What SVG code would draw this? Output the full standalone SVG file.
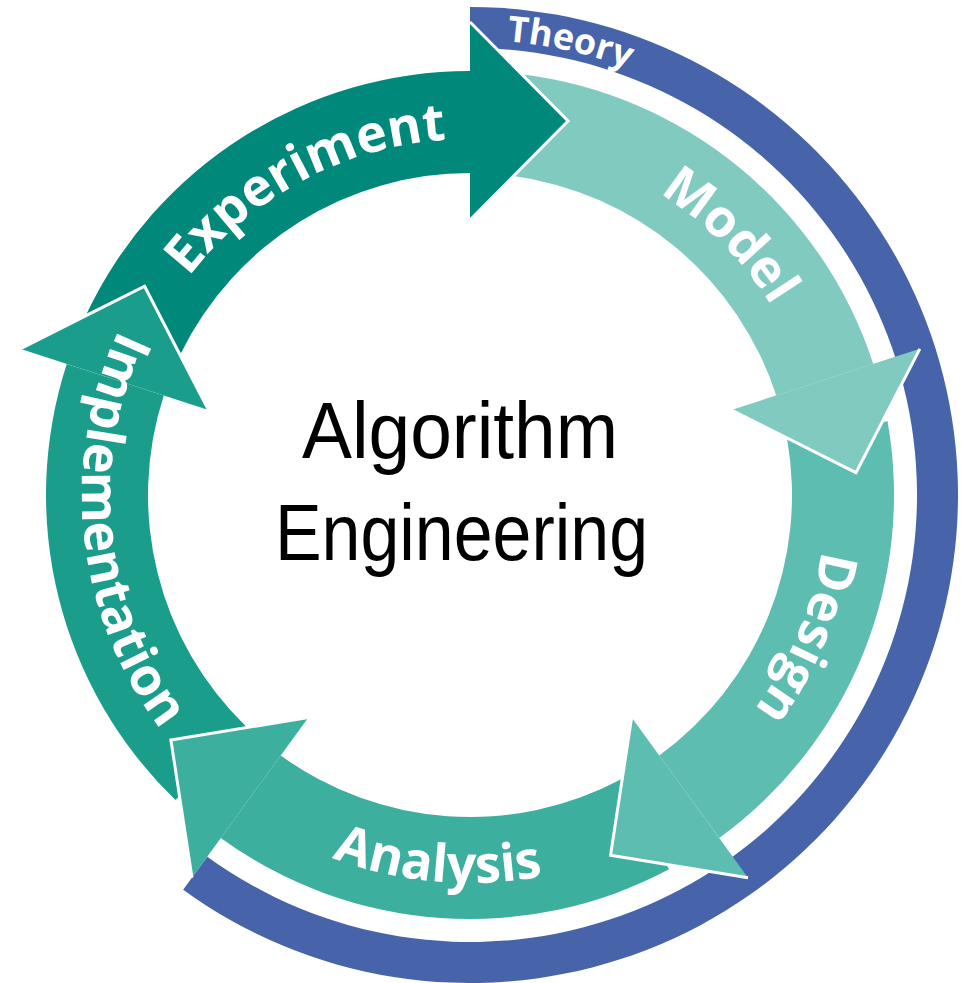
<svg xmlns="http://www.w3.org/2000/svg" xmlns:xlink="http://www.w3.org/1999/xlink" width="961" height="983" viewBox="0 0 961 983">
<style>
.lbl{font-family:"Open Sans","DejaVu Sans",sans-serif;font-weight:700;font-size:52px;fill:#ffffff}
.th{font-size:36px}
.head{stroke:#ffffff;stroke-width:3;stroke-linejoin:miter}
.title{font-family:"Liberation Sans","DejaVu Sans",sans-serif;font-size:80px;fill:#000000}
</style>
<defs>
<path id="tpTheory" d="M 242.5 100.96 A 455 455 0 0 1 842.72 234.02"/>
<path id="tpExp" d="M 121.78 420.98 A 356 356 0 0 1 603.36 164.92"/>
<path id="tpModel" d="M 438.97 140.36 A 356 356 0 0 1 824.65 526.03"/>
<path id="tpDesign" d="M 787.2 333.38 A 356 356 0 0 1 574.08 835.44"/>
<path id="tpAnalysis" d="M 152.17 717.55 A 388 388 0 0 0 744.36 769.36"/>
<path id="tpImpl" d="M 190.9 225.47 A 388 388 0 0 0 253.03 816.67"/>
</defs>
<rect width="961" height="983" fill="#ffffff"/>
<g id="theory">
<path d="M 470 7 A 488 488 0 1 1 183.16 889.8 L 207.26 856.63 A 447 447 0 1 0 470 48 Z" fill="#4763AA"/>
<text class="lbl th"><textPath xlink:href="#tpTheory" href="#tpTheory" startOffset="50%" text-anchor="middle">Theory</textPath></text>
</g>
<g id="implementation">
<path d="M 175.46 800 A 424 424 0 0 1 66.75 363.98 L 163.76 395.5 A 322 322 0 0 0 246.32 726.63 Z" fill="#1A9E8B"/>
<path class="head" d="M 208.46 410.02 L 144.58 286.23 L 20.15 348.83" fill="#1A9E8B"/>
<text class="lbl"><textPath xlink:href="#tpImpl" href="#tpImpl" startOffset="50%" text-anchor="middle">Implementation</textPath></text>
</g>
<g id="analysis">
<path d="M 669.06 869.37 A 424 424 0 0 1 220.78 838.02 L 280.73 755.5 A 322 322 0 0 0 621.17 779.31 Z" fill="#3DAF9F"/>
<path class="head" d="M 308.36 717.48 L 170.89 739.97 L 191.98 877.67" fill="#3DAF9F"/>
<text class="lbl"><textPath xlink:href="#tpAnalysis" href="#tpAnalysis" startOffset="50%" text-anchor="middle">Analysis</textPath></text>
</g>
<g id="design">
<path d="M 887.56 421.37 A 424 424 0 0 1 719.22 838.02 L 659.27 755.5 A 322 322 0 0 0 787.11 439.09 Z" fill="#5DBDB1"/>
<path class="head" d="M 631.64 717.48 L 610.55 855.17 L 748.02 877.67" fill="#5DBDB1"/>
<text class="lbl"><textPath xlink:href="#tpDesign" href="#tpDesign" startOffset="50%" text-anchor="middle">Design</textPath></text>
</g>
<g id="model">
<path d="M 521.67 74.16 A 424 424 0 0 1 873.25 363.98 L 776.24 395.5 A 322 322 0 0 0 512.02 175.87 Z" fill="#80CAC0"/>
<path class="head" d="M 731.54 410.02 L 855.98 472.63 L 919.85 348.83" fill="#80CAC0"/>
<text class="lbl"><textPath xlink:href="#tpModel" href="#tpModel" startOffset="50%" text-anchor="middle">Model</textPath></text>
</g>
<g id="experiment">
<path d="M 86.75 313.62 A 424 424 0 0 1 470 71 L 470 173 A 322 322 0 0 0 180.88 353.26 L 145.24 284.2 Z" fill="#00897A"/>
<path class="head" d="M 470 220 L 568 121 L 470 22" fill="#00897A"/>
<text class="lbl"><textPath xlink:href="#tpExp" href="#tpExp" startOffset="50%" text-anchor="middle">Experiment</textPath></text>
</g>
<g id="connectors"></g>
<g id="title">
<text class="title" x="460" y="458" text-anchor="middle" textLength="316" lengthAdjust="spacingAndGlyphs">Algorithm</text>
<text class="title" x="461.5" y="560" text-anchor="middle" textLength="373" lengthAdjust="spacingAndGlyphs">Engineering</text>
</g>
</svg>
